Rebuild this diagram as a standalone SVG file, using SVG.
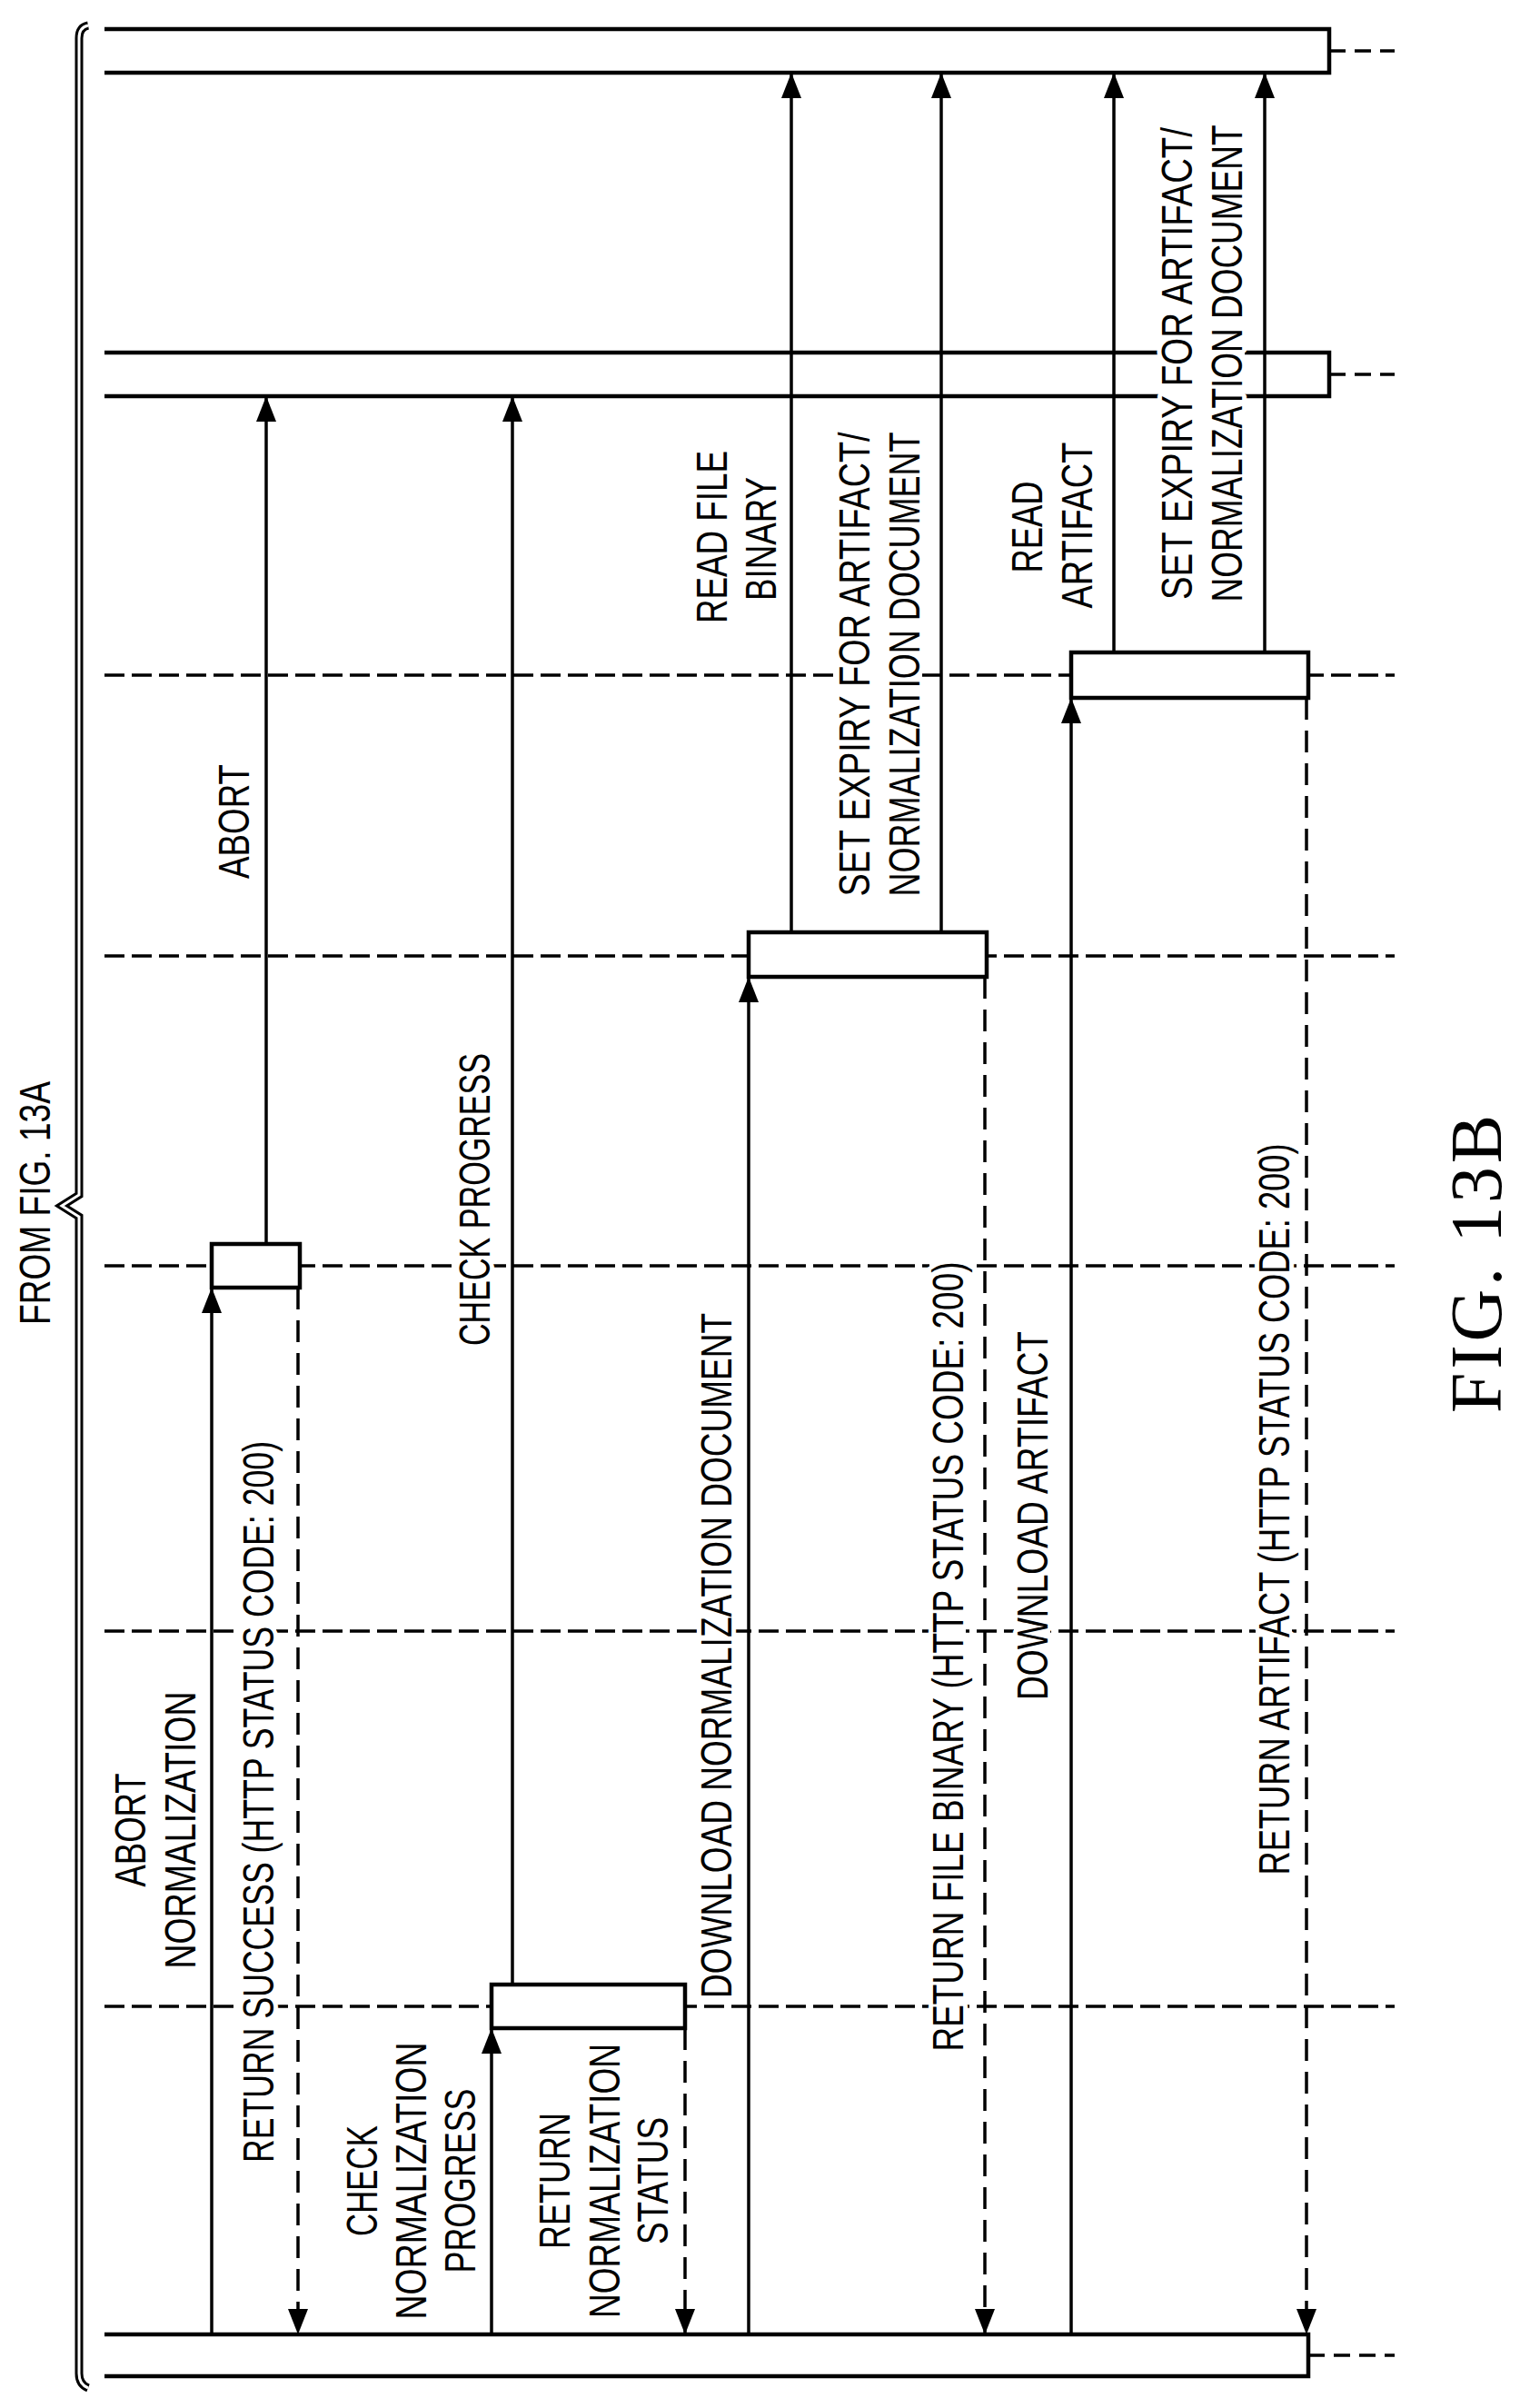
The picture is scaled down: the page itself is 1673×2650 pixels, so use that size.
<svg xmlns="http://www.w3.org/2000/svg" width="1673" height="2650" viewBox="0 0 1673 2650">
<style>
.bar{fill:none;stroke:#000;stroke-width:4.5}
.box{fill:#fff;stroke:#000;stroke-width:4.5}
.life{fill:none;stroke:#000;stroke-width:3.5;stroke-dasharray:22 8}
.tail{fill:none;stroke:#000;stroke-width:3.5;stroke-dasharray:18 10}
.msg{fill:none;stroke:#000;stroke-width:3.5;marker-end:url(#ah)}
.ret{fill:none;stroke:#000;stroke-width:3.5;stroke-dasharray:24 12;marker-end:url(#ah)}
.bg{fill:#fff}
.lbl{font-family:"Liberation Sans",Arial,sans-serif;font-size:48px;fill:#000;text-anchor:middle;stroke:#fff;stroke-width:10;paint-order:stroke;stroke-linejoin:round}
.fig{font-family:"Liberation Serif","Times New Roman",serif;font-size:80px;fill:#000;text-anchor:middle}
</style>
<defs>
<marker id="ah" viewBox="0 0 28 22" refX="28" refY="11" markerWidth="28" markerHeight="22" markerUnits="userSpaceOnUse" orient="auto">
<path d="M0,0 L28,11 L0,22 z" fill="#000"/>
</marker>
</defs>
<rect width="1673" height="2650" fill="#fff"/>

<g id="brace">
<path d="M97,28 Q87,30 87,42 V1315 L68,1327 L87,1339 V2612 Q87,2624 97,2628" fill="none" stroke="#000" stroke-width="9"/>
<path d="M97,28 Q87,30 87,42 V1315 L68,1327 L87,1339 V2612 Q87,2624 97,2628" fill="none" stroke="#fff" stroke-width="3"/>
<text class="lbl" transform="translate(38,1324) rotate(-90)" y="17" textLength="268" lengthAdjust="spacingAndGlyphs">FROM FIG. 13A</text>
</g>

<g id="lifeline1">
<path class="bar" d="M115,32 H1463 V80 H115"/>
<path class="tail" d="M1463,56 H1535"/>
</g>
<g id="lifeline2">
<path class="bar" d="M115,388 H1463 V436 H115"/>
<path class="tail" d="M1463,412 H1535"/>
</g>
<g id="lifeline3"><path class="life" d="M115,743 H1535"/></g>
<g id="lifeline4"><path class="life" d="M115,1052 H1535"/></g>
<g id="lifeline5"><path class="life" d="M115,1393 H1535"/></g>
<g id="lifeline6"><path class="life" d="M115,1795 H1535"/></g>
<g id="lifeline7"><path class="life" d="M115,2208 H1535"/></g>
<g id="lifeline8">
<path class="bar" d="M115,2569 H1440 V2615 H115"/>
<path class="tail" d="M1440,2592 H1535"/>
</g>

<g id="connectors">
<path class="msg" d="M233,2569 V1417"/>
<path class="ret" d="M328,1417 V2569"/>
<path class="msg" d="M293,1369 V436"/>
<path class="msg" d="M541,2569 V2232"/>
<path class="ret" d="M754,2232 V2569"/>
<path class="msg" d="M564,2184 V436"/>
<path class="msg" d="M824,2569 V1075"/>
<path class="ret" d="M1084,1075 V2569"/>
<path class="msg" d="M871,1026 V80"/>
<path class="msg" d="M1036,1026 V80"/>
<path class="msg" d="M1179,2569 V768"/>
<path class="ret" d="M1438,768 V2569"/>
<path class="msg" d="M1226,718 V80"/>
<path class="msg" d="M1392,718 V80"/>
</g>

<g id="boxA"><rect class="box" x="233" y="1369" width="97" height="48"/></g>
<g id="boxB"><rect class="box" x="541" y="2184" width="213" height="48"/></g>
<g id="boxC"><rect class="box" x="824" y="1026" width="262" height="49"/></g>
<g id="boxD"><rect class="box" x="1179" y="718" width="261" height="50"/></g>

<g id="labels">
<rect class="bg" x="264" y="1580" width="40" height="806"/>
<rect class="bg" x="502" y="1153" width="40" height="334"/>
<rect class="bg" x="768" y="1439" width="40" height="766"/>
<rect class="bg" x="1023" y="1383" width="40" height="881"/>
<rect class="bg" x="1116" y="1459" width="40" height="418"/>
<rect class="bg" x="1382" y="1253" width="40" height="816"/>
<rect class="bg" x="920" y="470" width="95" height="523"/>
<rect class="bg" x="1275" y="132" width="95" height="538"/>
<text class="lbl" transform="translate(143,2014) rotate(-90)" y="17" textLength="125" lengthAdjust="spacingAndGlyphs">ABORT</text>
<text class="lbl" transform="translate(198,2014) rotate(-90)" y="17" textLength="305" lengthAdjust="spacingAndGlyphs">NORMALIZATION</text>
<text class="lbl" transform="translate(284,1983) rotate(-90)" y="17" textLength="794" lengthAdjust="spacingAndGlyphs">RETURN SUCCESS (HTTP STATUS CODE: 200)</text>
<text class="lbl" transform="translate(257,904) rotate(-90)" y="17" textLength="126" lengthAdjust="spacingAndGlyphs">ABORT</text>
<text class="lbl" transform="translate(522,1320) rotate(-90)" y="17" textLength="322" lengthAdjust="spacingAndGlyphs">CHECK PROGRESS</text>
<text class="lbl" transform="translate(398,2400) rotate(-90)" y="17" textLength="122" lengthAdjust="spacingAndGlyphs">CHECK</text>
<text class="lbl" transform="translate(452,2400) rotate(-90)" y="17" textLength="305" lengthAdjust="spacingAndGlyphs">NORMALIZATION</text>
<text class="lbl" transform="translate(506,2400) rotate(-90)" y="17" textLength="203" lengthAdjust="spacingAndGlyphs">PROGRESS</text>
<text class="lbl" transform="translate(610,2400) rotate(-90)" y="17" textLength="150" lengthAdjust="spacingAndGlyphs">RETURN</text>
<text class="lbl" transform="translate(665,2400) rotate(-90)" y="17" textLength="302" lengthAdjust="spacingAndGlyphs">NORMALIZATION</text>
<text class="lbl" transform="translate(718,2400) rotate(-90)" y="17" textLength="140" lengthAdjust="spacingAndGlyphs">STATUS</text>
<text class="lbl" transform="translate(788,1822) rotate(-90)" y="17" textLength="754" lengthAdjust="spacingAndGlyphs">DOWNLOAD NORMALIZATION DOCUMENT</text>
<text class="lbl" transform="translate(1043,1823) rotate(-90)" y="17" textLength="869" lengthAdjust="spacingAndGlyphs">RETURN FILE BINARY (HTTP STATUS CODE: 200)</text>
<text class="lbl" transform="translate(1136,1668) rotate(-90)" y="17" textLength="406" lengthAdjust="spacingAndGlyphs">DOWNLOAD ARTIFACT</text>
<text class="lbl" transform="translate(1402,1661) rotate(-90)" y="17" textLength="805" lengthAdjust="spacingAndGlyphs">RETURN ARTIFACT (HTTP STATUS CODE: 200)</text>
<text class="lbl" transform="translate(783,591) rotate(-90)" y="17" textLength="190" lengthAdjust="spacingAndGlyphs">READ FILE</text>
<text class="lbl" transform="translate(837,593) rotate(-90)" y="17" textLength="136" lengthAdjust="spacingAndGlyphs">BINARY</text>
<text class="lbl" transform="translate(940,731) rotate(-90)" y="17" textLength="511" lengthAdjust="spacingAndGlyphs">SET EXPIRY FOR ARTIFACT/</text>
<text class="lbl" transform="translate(995,731) rotate(-90)" y="17" textLength="511" lengthAdjust="spacingAndGlyphs">NORMALIZATION DOCUMENT</text>
<text class="lbl" transform="translate(1130,580) rotate(-90)" y="17" textLength="101" lengthAdjust="spacingAndGlyphs">READ</text>
<text class="lbl" transform="translate(1185,578) rotate(-90)" y="17" textLength="183" lengthAdjust="spacingAndGlyphs">ARTIFACT</text>
<text class="lbl" transform="translate(1295,400) rotate(-90)" y="17" textLength="520" lengthAdjust="spacingAndGlyphs">SET EXPIRY FOR ARTIFACT/</text>
<text class="lbl" transform="translate(1350,400) rotate(-90)" y="17" textLength="525" lengthAdjust="spacingAndGlyphs">NORMALIZATION DOCUMENT</text>
</g>

<g id="caption">
<text class="fig" transform="translate(1625,1391) rotate(-90)" y="27" textLength="328" lengthAdjust="spacing">FIG. 13B</text>
</g>
</svg>
